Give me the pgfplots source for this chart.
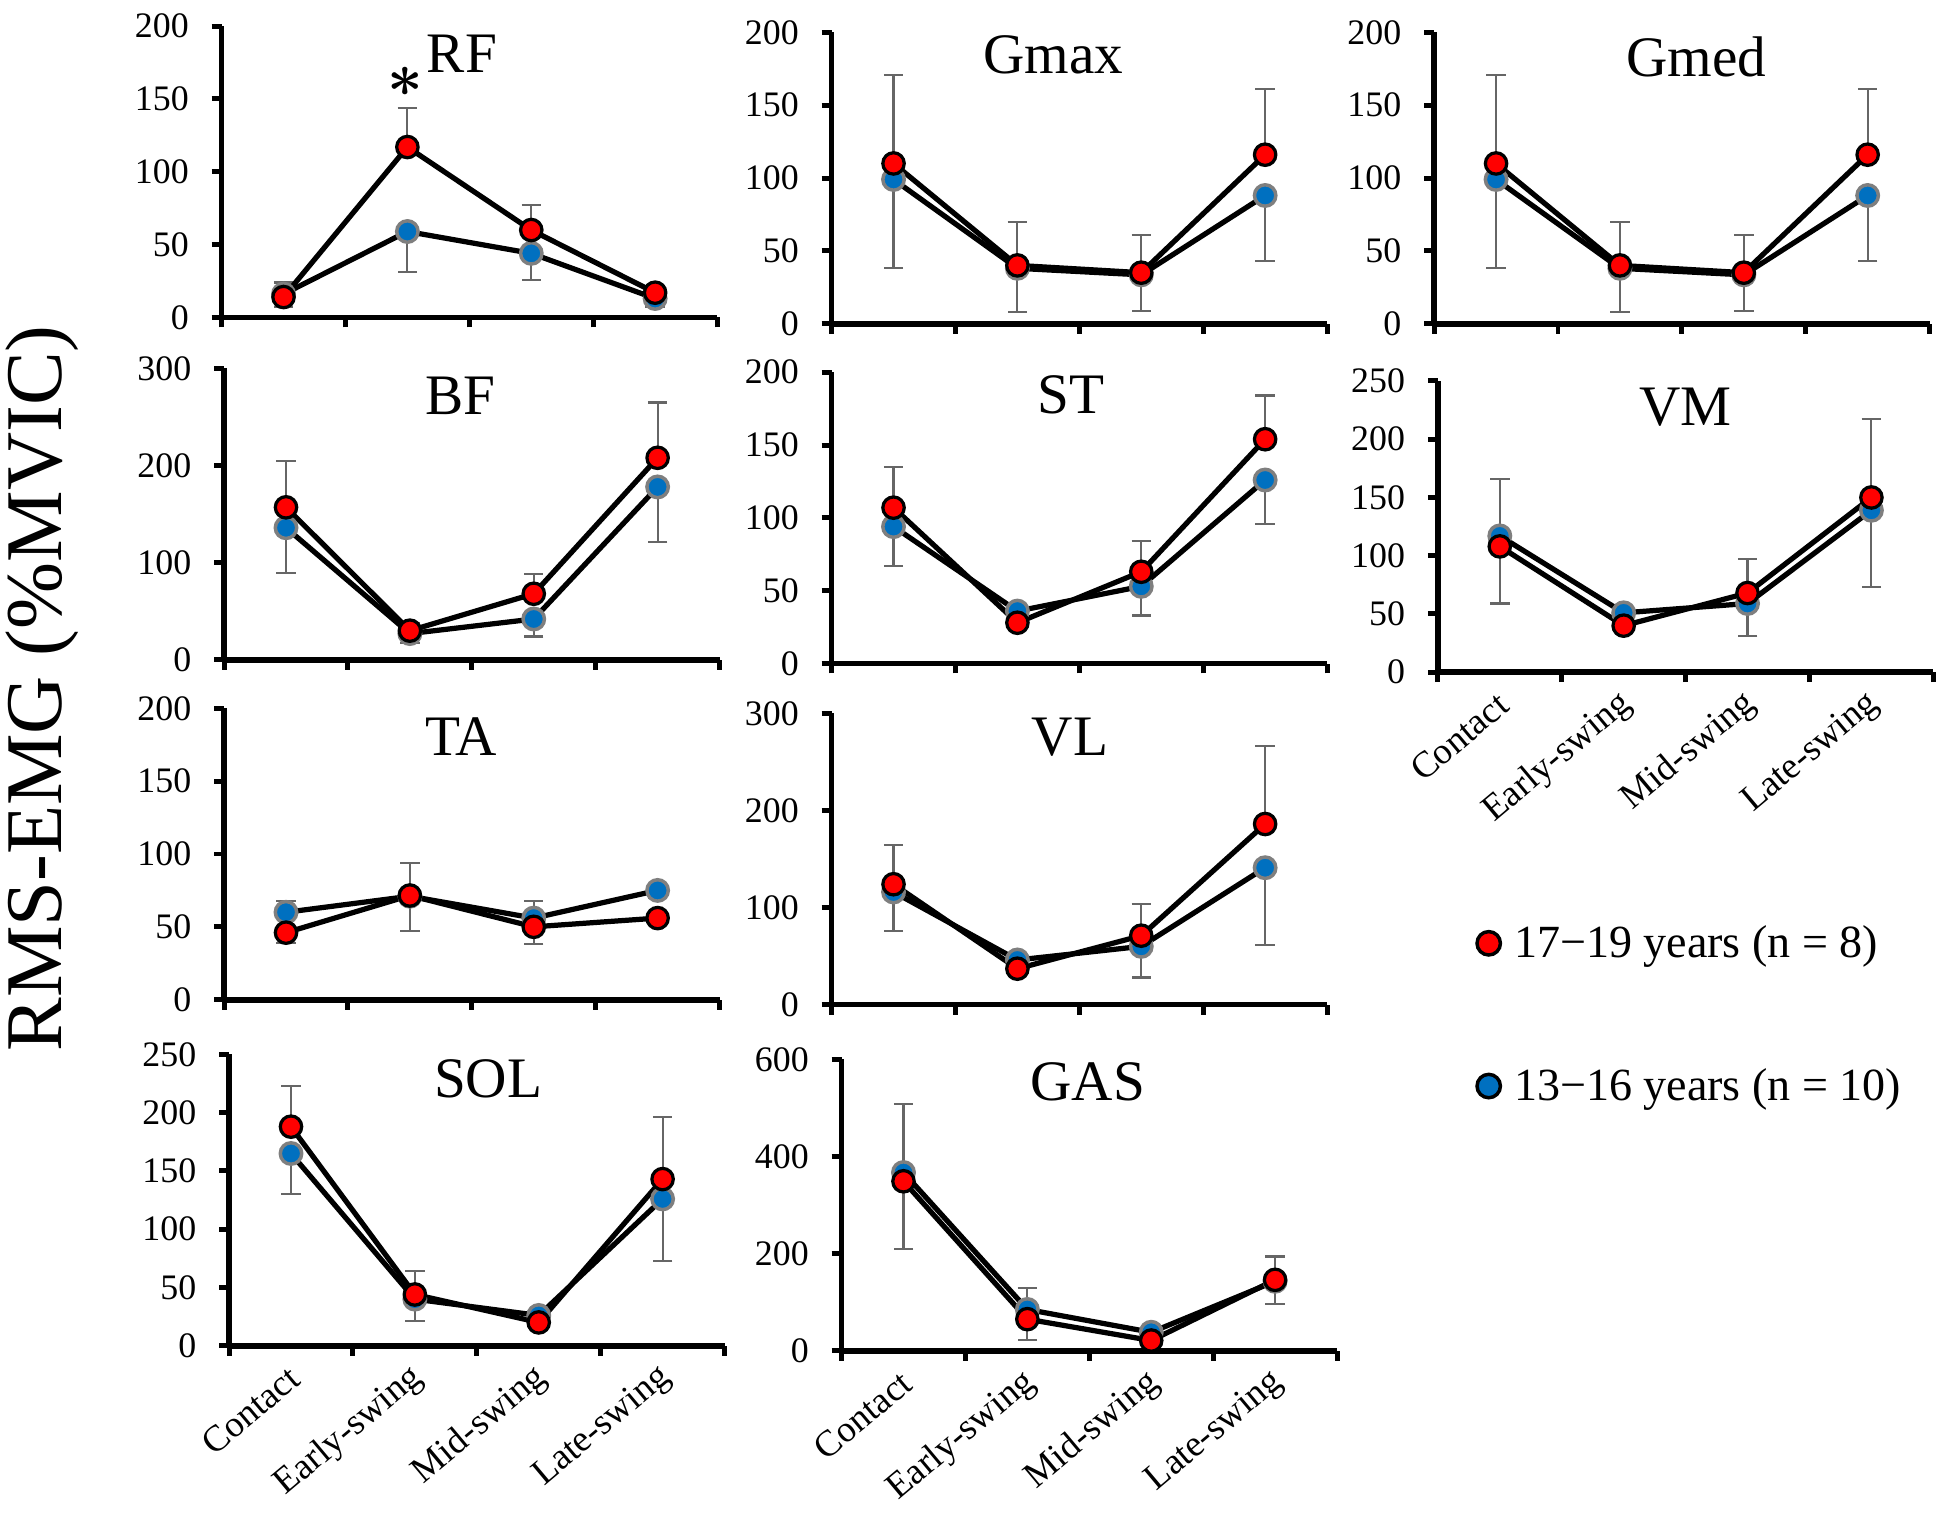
\documentclass[border=0pt]{standalone}
\usepackage{fontspec}
\setmainfont{Liberation Serif}
\usepackage{pgfplots}
\usepackage{pgfplotstable}
\pgfplotsset{compat=1.18}

\definecolor{myblue}{HTML}{0070C0}
\definecolor{mgray}{HTML}{7F7F7F}
\definecolor{egray}{HTML}{666666}

\newcommand\tickfont{\fontsize{14.4}{16}\selectfont}
\newcommand\catfont{\fontsize{14.8}{17}\selectfont}
\newcommand\ttlfont{\fontsize{23}{26}\selectfont}
\newcommand\legfont{\fontsize{18.5}{21}\selectfont}
\newcommand\ylabfont{\fontsize{32.3}{36}\selectfont}
\newcommand\astfont{\fontsize{32}{32}\selectfont\boldmath}

\pgfplotsset{
  panel/.style={
    width=199pt, height=117pt, scale only axis, anchor=south west,
    xmin=0, xmax=4, ymin=0,
    axis x line=bottom, axis y line=left,
    axis line style={line width=2.3pt, -},
    every outer x axis line/.append style={-},
    every outer y axis line/.append style={-},
    xtick={0,1,2,3,4}, xticklabels={,,,,},
    tick align=outside, major tick length=4pt,
    tick style={black, line width=2pt},
    tick label style={font=\tickfont},
    yticklabel style={inner sep=0pt, xshift=-9pt},
    /pgf/number format/assume math mode=true,
    clip=false,
  },
  cats/.style={
    extra x ticks={0.5,1.5,2.5,3.5},
    extra x tick labels={Contact,Early-swing,Mid-swing,Late-swing},
    extra x tick style={major tick length=0pt,
      xticklabel style={font=\catfont, inner sep=0pt, xshift=1.5pt, yshift=-11pt, rotate=40, anchor=east}},
  },
  bbar/.style={forget plot, only marks, mark=none,
    error bars/.cd, y dir=minus, y explicit,
    error bar style={egray, line width=0.85pt},
    error mark options={egray, line width=0.85pt, mark size=3.9pt, rotate=90}},
  rbar/.style={forget plot, only marks, mark=none,
    error bars/.cd, y dir=plus, y explicit,
    error bar style={egray, line width=0.85pt},
    error mark options={egray, line width=0.85pt, mark size=3.9pt, rotate=90}},
  bline/.style={forget plot, black, line width=2.1pt, mark=*, mark size=4.3pt,
    mark options={fill=myblue, draw=mgray, line width=1.4pt}},
  rline/.style={forget plot, black, line width=2.1pt, mark=*, mark size=4.3pt,
    mark options={fill=red, draw=black, line width=1.3pt}},
}

\newcommand\series[1]{%
  \addplot[bbar] table[x=x,y=yb,y error=eb]{#1};
  \addplot[rbar] table[x=x,y=yr,y error=er]{#1};
  \addplot[bline] table[x=x,y=yb]{#1};
  \addplot[rline] table[x=x,y=yr]{#1};}
\newcommand\ttl[3]{\node[font=\ttlfont, anchor=north, inner sep=0pt, yshift=#2] at (rel axis cs:#1,1) {#3};}

\pgfplotstableread{
x yb eb yr er
0.5 16 9 14 10
1.5 59 28 117 27
2.5 44 18 60 17
3.5 13 6 17 3
}\tRF
\pgfplotstableread{
x yb eb yr er
0.5 99 61 110 61
1.5 38 30 40 30
2.5 33.5 25 35 26
3.5 88 45 116 45
}\tGmax
\pgfplotstableread{
x yb eb yr er
0.5 99 61 110 61
1.5 38 30 40 30
2.5 33.5 25 35 26
3.5 88 45 116 45
}\tGmed
\pgfplotstableread{
x yb eb yr er
0.5 136 47 157 48
1.5 27 10 30 8
2.5 42 18 68 20
3.5 178 57 208 57
}\tBF
\pgfplotstableread{
x yb eb yr er
0.5 94 27 107 28
1.5 36 6 28 5
2.5 53 20 63 21
3.5 126 30 154 30
}\tST
\pgfplotstableread{
x yb eb yr er
0.5 117 58 108 58
1.5 51 6 40 5
2.5 59 28 68 29
3.5 139 66 150 67
}\tVM
\pgfplotstableread{
x yb eb yr er
0.5 60 21 46 22
1.5 71 24 71.5 22.5
2.5 56 18 50 18
3.5 75 5 56 4
}\tTA
\pgfplotstableread{
x yb eb yr er
0.5 116 40 124 40
1.5 46 6 37 5
2.5 60 32 71 33
3.5 141 80 186 80
}\tVL
\pgfplotstableread{
x yb eb yr er
0.5 165 35 188 35
1.5 40 19 44 20
2.5 26 4 20 4
3.5 126 53 143 53
}\tSOL
\pgfplotstableread{
x yb eb yr er
0.5 367 157 349 159
1.5 85 63 65 65
2.5 38 8 21 9
3.5 143 46 146 48
}\tGAS

\begin{document}
\begin{tikzpicture}
\useasboundingbox (0,0) rectangle (784pt,-617pt);

% Row 1
\begin{axis}[panel, at={(89pt,-127.5pt)}, ymax=200, ytick={0,50,...,200}]
\series{\tRF}
\ttl{0.485}{-3.5pt}{RF}
\node[inner sep=0pt, font=\astfont] at (axis cs:1.48,161.7) {$\ast$};
\end{axis}
\begin{axis}[panel, at={(334pt,-130pt)}, ymax=200, ytick={0,50,...,200}]
\series{\tGmax}
\ttl{0.447}{-1pt}{Gmax}
\end{axis}
\begin{axis}[panel, at={(576pt,-130pt)}, ymax=200, ytick={0,50,...,200}]
\series{\tGmed}
\ttl{0.529}{-1.5pt}{Gmed}
\end{axis}

% Row 2
\begin{axis}[panel, at={(90pt,-265pt)}, ymax=300, ytick={0,100,...,300}]
\series{\tBF}
\ttl{0.477}{-3.3pt}{BF}
\end{axis}
\begin{axis}[panel, at={(334pt,-266.5pt)}, ymax=200, ytick={0,50,...,200}]
\series{\tST}
\ttl{0.483}{-1pt}{ST}
\end{axis}
\begin{axis}[panel, cats, at={(577.5pt,-270pt)}, ymax=250, ytick={0,50,...,250},
  legend style={at={(0.078,-0.8675)}, anchor=north west, draw=none, fill=none,
    inner sep=0pt, row sep=43pt, column sep=5.5pt, font=\legfont, nodes={inner sep=0pt}},
  legend cell align=left]
\series{\tVM}
\ttl{0.50}{-2.5pt}{VM}
\addlegendimage{only marks, mark=*, mark size=4.7pt, mark options={fill=red, draw=black, line width=1.4pt}}
\addlegendentry{17−19 years (n = 8)}
\addlegendimage{only marks, mark=*, mark size=4.7pt, mark options={fill=myblue, draw=black, line width=1.4pt}}
\addlegendentry{13−16 years (n = 10)}
\end{axis}

% Row 3
\begin{axis}[panel, at={(90pt,-401.5pt)}, ymax=200, ytick={0,50,...,200}]
\series{\tTA}
\ttl{0.478}{-3.7pt}{TA}
\end{axis}
\begin{axis}[panel, at={(334pt,-403.5pt)}, ymax=300, ytick={0,100,...,300}]
\series{\tVL}
\ttl{0.481}{-1.5pt}{VL}
\end{axis}

% Row 4
\begin{axis}[panel, cats, at={(92pt,-540.5pt)}, ymax=250, ytick={0,50,...,250}]
\series{\tSOL}
\ttl{0.523}{-2pt}{SOL}
\end{axis}
\begin{axis}[panel, cats, at={(338pt,-542.5pt)}, ymax=600, ytick={0,200,...,600}]
\series{\tGAS}
\ttl{0.497}{-1pt}{GAS}
\end{axis}

\node[rotate=90, font=\ylabfont, inner sep=0pt] at (17pt,-276.5pt) {RMS-EMG (\%MVIC)};
\end{tikzpicture}
\end{document}
